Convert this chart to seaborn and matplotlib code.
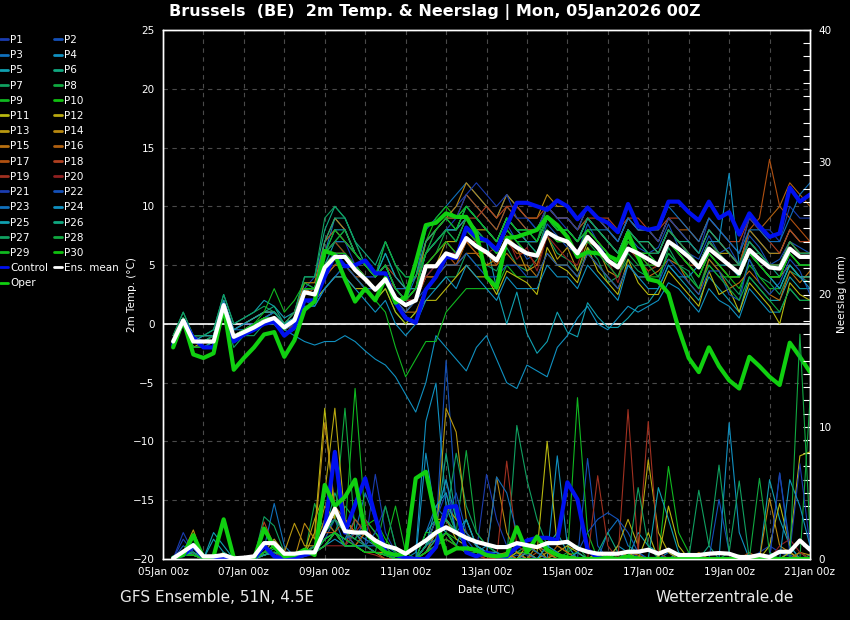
import pandas as pd
import matplotlib
matplotlib.use('Agg')
import matplotlib.pyplot as plt
from matplotlib.lines import Line2D
from matplotlib.ticker import MultipleLocator
import matplotlib.dates as mdates
import seaborn as sns

# 6-hourly steps, 05Jan 06z .. 21Jan 00z
times = pd.date_range('2026-01-05 06:00', periods=64, freq='6h')

member_names = [f'P{i}' for i in range(1, 31)]
member_colors = ['#1a3cb0', '#1450b8', '#1070bc', '#1090c0', '#10a0b0',
                 '#10a880', '#10a060', '#10a840', '#10b820', '#10c010',
                 '#b8b810', '#b8a810', '#b89810', '#b88810', '#b87010',
                 '#b06010', '#b05010', '#b04020', '#a03020', '#902020'] * 2
member_colors = member_colors[:30]

control_temp = [-1.8, 0.3, -1.2, -2.0, -2.0, 1.6, -1.5, -0.9, -0.5, 0.0, 0.2, -1.0, -0.3, 2.0, 2.0, 4.0,
                5.9, 4.9, 5.0, 5.4, 4.3, 4.3, 1.8, 0.5, 0.1, 2.9, 4.0, 5.7, 5.6, 8.2, 7.4, 7.1,
                6.3, 8.3, 10.3, 10.3, 10.0, 9.7, 10.5, 10.0, 8.9, 9.9, 9.0, 8.6, 7.8, 10.2, 8.3, 8.0,
                8.2, 10.4, 10.4, 9.5, 8.8, 10.4, 9.0, 9.5, 7.6, 9.4, 8.3, 7.4, 7.7, 11.6, 10.4, 11.0]
oper_temp = [-2.0, 0.3, -2.6, -2.9, -2.5, 1.5, -3.9, -2.9, -2.0, -0.9, -0.7, -2.8, -1.4, 1.2, 1.9, 6.2,
             5.9, 3.8, 1.9, 3.0, 2.0, 3.9, 1.8, 2.3, 5.2, 8.4, 8.6, 9.4, 9.1, 9.1, 7.7, 4.0,
             3.1, 7.3, 7.4, 7.7, 8.0, 9.1, 8.4, 7.4, 5.7, 6.1, 6.0, 5.8, 5.4, 7.7, 5.7, 3.8,
             3.6, 2.6, -0.4, -2.9, -4.1, -2.0, -3.6, -4.8, -5.5, -2.8, -3.6, -4.5, -5.2, -1.6, -2.8, -4.1]
mean_temp = [-1.5, 0.3, -1.5, -1.5, -1.5, 1.6, -1.1, -0.7, -0.3, 0.2, 0.5, -0.3, 0.3, 2.7, 2.5, 4.8,
             5.7, 5.7, 4.6, 3.8, 2.9, 3.8, 2.2, 1.6, 2.0, 4.9, 4.9, 6.0, 5.7, 7.3, 6.6, 6.1,
             5.4, 7.1, 6.5, 6.0, 5.8, 7.8, 7.3, 7.0, 6.0, 7.4, 6.5, 5.4, 4.8, 6.4, 6.0, 5.5,
             5.0, 7.0, 6.4, 5.7, 4.8, 6.4, 5.7, 5.0, 4.3, 6.3, 5.5, 4.8, 4.7, 6.4, 5.7, 5.7]

control_rain = [0.1, 0.3, 1.0, 0.1, 0, 0.1, 0, 0, 0, 1.0, 0.2, 0, 0.1, 0.3, 0.5, 2.2,
                8.1, 2.0, 4.1, 6.1, 3.2, 0.5, 0.3, 0.1, 0, 0, 0.9, 3.9, 4.0, 0.5, 0.2, 0.5,
                0.2, 0.2, 0.9, 1.4, 1.6, 1.6, 1.4, 5.8, 4.5, 0.7, 0.1, 0, 0, 0, 0, 0,
                0, 0, 0, 0, 0, 0, 0, 0, 0, 0, 0, 0, 0, 0, 0, 0]
oper_rain = [0.1, 0.3, 1.8, 0.1, 0.2, 3.0, 0.1, 0, 0, 2.3, 0.9, 0.2, 0.3, 0.7, 0.3, 5.6,
             4.0, 4.7, 6.0, 2.0, 1.2, 0.5, 0.3, 0.4, 6.1, 6.6, 3.0, 0.4, 0.8, 0.8, 0.7, 0.3,
             0.2, 0.3, 2.4, 0.5, 1.7, 0.7, 0.3, 0.1, 0, 0, 0, 0.1, 0, 0.2, 0, 0,
             0, 0, 0, 0, 0, 0, 0, 0, 0, 0, 0, 0, 0, 0, 0, 0]
mean_rain = [0.05, 0.55, 1.05, 0.2, 0.2, 0.3, 0.05, 0.1, 0.2, 1.2, 1.2, 0.4, 0.4, 0.5, 0.5, 2.2,
             3.8, 2.1, 2.0, 2.0, 1.4, 1.0, 0.8, 0.4, 0.9, 1.4, 2.0, 2.4, 2.0, 1.6, 1.3, 1.1,
             0.9, 0.9, 1.2, 1.05, 0.9, 1.2, 1.2, 1.3, 0.8, 0.55, 0.4, 0.4, 0.4, 0.55, 0.55, 0.7,
             0.4, 0.7, 0.3, 0.3, 0.3, 0.4, 0.45, 0.4, 0.15, 0.15, 0.3, 0.15, 0.55, 0.55, 1.4, 0.7]

member_temp = [
    [-1, 0.5, -1, -1.5, -1, 1.5, -1, -0.5, 0, 0.5, 1, 0, 1, 3, 4, 7,
     8, 7, 5, 4, 4, 5, 3, 2, 3, 6, 8, 9, 10, 11, 10, 9,
     8, 10, 9, 8, 8, 10, 9, 8, 7, 9, 8, 7, 6, 8, 7, 6,
     6, 8, 7, 6, 5, 7, 6, 5, 4, 6, 5, 4, 4, 6, 5, 5],
    [-2, 0, -2, -2, -2, 1, -1.5, -1, 0, 0.5, 0, -1, 0, 2, 2, 4,
     5, 6, 5, 4, 3, 4, 2, 1, 2, 4, 5, 6, 6, 8, 7, 7,
     6.5, 8.5, 7, 5.5, 6, 8.5, 7.5, 6.5, 6, 8.5, 7, 5.5, 5, 7.5, 6.5, 6,
     6.5, 8.5, 6.5, 6, 5.5, 7.5, 6, 6.5, 5, 7.5, 6.5, 5, 5.5, 7, 6.5, 6],
    [-1.5, 0.5, -1.5, -1, -1, 2, -0.5, 0, 0.5, 1, 1, 0, 0.5, 3.5, 3, 6,
     9, 8, 6, 5, 4, 5, 3, 2, 4, 8, 9, 10, 11, 12, 11, 10,
     9, 11, 10, 9, 8, 10, 9, 9, 8, 10, 9, 8, 7, 9, 8, 8,
     7, 9, 8, 7, 6, 8, 7, 6, 5, 8, 7, 6, 6, 8, 7, 7],
    [-2, 0, -2, -2, -1.5, 1, -1, -0.5, 0, 0, 0, -0.5, -1, -1.5, -1.8, -1.5,
     -1.5, -1, -1.5, -2.3, -3, -3.5, -4.5, -6, -7.5, -5, -1, -2, -3, -4, -2, -1,
     -3, -5, -5.5, -3.5, -4, -4.5, -2, -1, 0.5, 1.5, 0, -0.5, 0.5, 1.5, 1, 1.5,
     2, 3.5, 3, 2, 1, 3, 2, 1.5, 0.5, 3, 2, 1, 1, 3, 2, 2],
    [-1.5, 0.5, -1, -1, -0.5, 2.5, 0, 0.5, 1, 2, 1.5, 0.5, 1, 3, 3, 5,
     7, 7, 6, 5, 4, 5, 3, 2, 2, 5, 6, 7, 6, 8, 7, 7,
     3, 0, 2.7, -0.8, -2.5, -1.5, 1, -0.7, -1.1, 1.8, 0.6, -0.3, -0.3, 0.5, 1.5, 1.8,
     3, 5, 4, 3, 2, 4, 3, 2, 1, 4, 3, 2, 2, 4, 3, 3],
    [-1, 1, -1, -1, -1, 2, -0.5, 0, 0.5, 1, 1.5, 0, 1, 4, 4, 8,
     10, 9, 7, 5, 4, 6, 4, 3, 4, 7, 8, 9, 9, 10, 9, 8,
     7, 9, 8, 7, 7, 9, 8, 8, 7, 9, 8, 7, 6, 8, 7, 7,
     6, 8, 7, 6, 5, 7, 6, 5, 5, 7, 6, 5, 5, 7, 6, 6],
    [-2, 0, -2, -2, -2, 1, -2, -1, -1, 0, 0, -1, 0, 2, 2, 3,
     4, 5, 4, 3, 2, 3, 1, 0, 1, 3, 3, 4, 4, 6, 5, 5,
     4.5, 6.5, 5, 4.5, 5.5, 7.5, 6, 5.5, 4.5, 6.5, 5.5, 3.5, 4, 5.5, 4.5, 4,
     3.5, 6.5, 5, 4.5, 3, 5.5, 4.5, 3.5, 2.5, 5.5, 4, 3.5, 2.5, 4.5, 4, 3.5],
    [-1.5, 0.5, -1.5, -1.5, -1, 2, -1, -0.5, 0, 0.5, 1, 0, 0.5, 3, 3, 6,
     7, 8, 6, 5, 4, 7, 5, 3, 3, 5, 6, 8, 8, 10, 9, 8,
     7, 9, 8, 8, 7, 10, 9, 9, 8, 9, 8, 7, 6, 8, 7, 6,
     6, 8, 7, 6, 5, 7, 6, 5, 4, 6, 6, 5, 5, 7, 6, 6],
    [-2, 0, -2, -2, -1.5, 1.5, -1, -0.5, 0, 0.5, 0.5, -0.5, 0, 2.5, 2.5, 5,
     6, 5, 4, 3, 2, 1, -2, -4.5, -3, -1.5, -1.5, 1, 2, 3, 3, 3,
     3, 5, 4, 4, 4, 6, 5, 5, 4, 6, 5, 4, 3, 5, 4, 4,
     4, 6, 5, 4, 3, 5, 4, 4, 3, 5, 4, 3, 3, 5, 4, 4],
    [-1.5, 0.5, -1.5, -1.5, -1.5, 1.5, -1, -1, -0.5, 0, 0.5, -0.5, 0.5, 3, 3, 6,
     7, 6, 5, 4, 3, 4, 3, 2, 3, 7, 9, 10, 9, 10, 9, 8,
     7, 9, 8, 7, 7, 9, 8, 8, 7, 8, 7, 6, 5, 7, 6, 6,
     5, 7, 6, 5, 4, 6, 5, 4, 4, 6, 5, 4, 4, 6, 5, 5],
    [-2, 0, -2, -1.5, -1.5, 1, -1, -1, -0.5, 0, 0.5, -0.5, 0, 2, 2, 3,
     4, 4, 3, 3, 2, 3, 1, 0, 1, 2, 2, 3, 4, 5, 4, 4,
     2.5, 4.5, 4, 3.5, 2.5, 6.5, 5, 4.5, 3.5, 6.5, 4.5, 3.5, 2.5, 5.5, 3.5, 2.5,
     2.5, 4.5, 3.5, 2.5, 1.5, 4.5, 2.5, 3, 1, 3.5, 2.5, 1.5, 0, 3.5, 2.5, 2],
    [-1.5, 0.5, -1.5, -1.5, -1, 1.5, -1, -0.5, 0, 0.5, 1, 0, 0.5, 3, 2.5, 5,
     6, 6, 5, 4, 3, 4, 2, 1, 2, 5, 5, 7, 7, 9, 8, 8,
     7, 9, 8, 7, 7, 9, 8, 8, 7, 9, 8, 7, 6, 8, 7, 7,
     6, 8, 7, 6, 5, 7, 6, 6, 5, 7, 6, 5, 5, 7, 6, 6],
    [-2, 0, -2, -2, -1.5, 1, -1.5, -1, 0, 0.5, 0, -1, 0, 2, 2, 4,
     5, 5, 4, 3, 3, 4, 2, 1, 2, 4, 4, 5, 5, 7, 6, 5,
     5.5, 7.5, 6.5, 4.5, 5, 7.5, 5.5, 6.5, 4.5, 7, 6.5, 4.5, 4, 6.5, 5.5, 4.5,
     5, 7, 6, 5, 4, 6, 5, 4, 4, 6, 5, 4, 4, 5, 4, 4],
    [-1, 0.5, -1, -1, -1, 2, -0.5, 0, 0.5, 1, 1, 0, 1, 3.5, 3.5, 7,
     9, 8, 6, 5, 4, 5, 3, 2, 3, 7, 8, 9, 10, 12, 11, 10,
     9, 11, 10, 9, 9, 11, 10, 10, 9, 10, 9, 8, 7, 9, 8, 8,
     7, 9, 8, 7, 6, 8, 7, 6, 5, 8, 7, 6, 6, 8, 7, 7],
    [-1.5, 0.3, -1.5, -1.5, -1.5, 1.5, -1, -0.5, 0, 0.5, 0.5, -0.5, 0.5, 3, 2.5, 5,
     6, 6, 5, 4, 3, 4, 2, 1, 1, 3, 4, 5, 5, 6, 6, 5,
     5, 6, 5, 5, 4, 6, 5, 5, 4, 6, 5, 4, 3, 5, 4, 4,
     4.5, 5.5, 5, 3.5, 2.5, 5.5, 4.5, 3, 3.5, 4.5, 3.5, 2.5, 2, 4.5, 3.5, 4.5],
    [-2, 0, -2, -2, -1.5, 1, -1, -0.5, 0, 0.5, 0.5, -0.5, 0.5, 2.5, 3, 7,
     8, 7, 6, 5, 4, 5, 3, 3, 4, 7, 8, 9, 9, 11, 10, 9,
     8, 10, 9, 8, 8, 10, 9, 9, 8, 10, 9, 8, 7, 9, 8, 8,
     7, 9, 8, 8, 7, 9, 8, 7, 6, 9, 8, 9, 10, 12, 11, 10],
    [-1.5, 0.3, -1.5, -1.5, -1.5, 1.5, -1, -0.5, 0, 0.5, 0.5, -0.5, 0, 2, 2, 4,
     5, 5, 4, 4, 3, 4, 2, 2, 2, 4, 4, 6, 5, 7, 6, 6,
     5, 7, 6, 6, 5, 8, 7, 7, 6, 8, 7, 6, 5, 7, 6, 5,
     5, 7, 6, 5, 5, 7, 7, 6, 5, 8, 9, 14, 10, 9, 8, 7],
    [-2, 0, -2, -2, -2, 1, -1.5, -1, -0.5, 0, 0.5, -0.5, 0, 2.5, 2.5, 6,
     7, 7, 6, 5, 4, 5, 4, 3, 3, 6, 7, 8, 8, 9, 9, 10,
     9, 10, 10, 9, 9, 10, 9, 9, 8, 9, 9, 9, 8, 9, 9, 8,
     8, 9, 9, 8, 7, 9, 8, 7, 7, 9, 8, 7, 6, 8, 7, 7],
    [-1.5, 0.3, -1.5, -1.5, -1.5, 1.5, -1, -0.5, -0.5, 0, 0.5, -0.5, 0.5, 3, 3, 6,
     7, 6, 5, 4, 3, 4, 2, 2, 2, 5, 6, 7, 6, 8, 7, 7,
     6, 8, 7, 6, 6, 8, 7, 7, 6, 8, 7, 6, 5, 7, 6, 6,
     6, 8, 7, 6, 5, 7, 6, 5, 5, 7, 6, 5, 5, 7, 6, 6],
    [-2, 0, -2, -2, -2, 1, -1.5, -1, -0.5, 0, 0, -1, 0, 2, 2, 5,
     6, 6, 5, 4, 3, 4, 3, 2, 2, 4, 5, 6, 6, 7, 7, 6,
     6.5, 7.5, 5.5, 6.5, 4.5, 7.5, 6.5, 5.5, 5, 7.5, 6.5, 5.5, 3.5, 6.5, 5.5, 4.5,
     5, 7, 6, 5, 4, 6, 5, 4, 4, 6, 5, 4, 4, 6, 5, 5],
    [-1.5, 0.5, -1.5, -1.5, -1, 2, -0.5, 0, 0, 0.5, 1, 0, 0.5, 3, 3, 5,
     6, 6, 5, 4, 4, 5, 3, 2, 3, 6, 7, 8, 9, 11, 12, 11,
     10, 11, 9, 9, 8, 10, 9, 9, 8, 10, 9, 8, 7, 9, 8, 8,
     7, 9, 8, 7, 6, 9, 8, 7, 6, 9, 8, 8, 7, 10, 9, 9],
    [-2, 0, -2, -2, -1.5, 1, -1, -1, -0.5, 0, 0.5, -0.5, 0, 2, 1.5, 3,
     4, 5, 4, 3, 3, 4, 2, 1, 2, 3, 4, 5, 5, 6, 5, 4,
     4, 5, 5, 4, 4, 6, 5, 5, 4, 6, 5, 4, 3, 5, 4, 4,
     3.5, 5.5, 4.5, 3.5, 2.5, 4.5, 4.5, 2.5, 2, 5.5, 3.5, 2.5, 3.5, 5.5, 4.5, 2.5],
    [-1.5, 0.5, -1.5, -1.5, -1, 1.5, -0.5, -0.5, 0, 0.5, 1, 0, 0.5, 3, 3, 6,
     7, 7, 6, 5, 4, 5, 3, 3, 4, 6, 7, 8, 8, 10, 9, 8,
     7, 9, 8, 7, 7, 9, 8, 8, 7, 9, 8, 8, 7, 9, 8, 8,
     8, 10, 9, 8, 7, 9, 8, 7, 6, 8, 8, 7, 7, 9, 11, 12],
    [-2, 0, -2, -2, -2, 1, -1.5, -1, -0.5, 0, 0, -1, -0.5, 1.5, 1.5, 3,
     4, 4, 3, 2, 1, 2, 0, -1, 0, 2, 3, 4, 3, 5, 4, 3,
     2, 4, 3, 3, 3, 5, 4, 4, 3, 5, 4, 3, 2, 5, 4, 3,
     3, 5, 4, 4, 5, 7, 7, 12.8, 5, 6, 5, 4, 3, 5, 4, 3],
    [-1.5, 0.3, -1.5, -1, -1, 2, -0.5, 0, 0.5, 1, 1, 0, 0.5, 3, 3, 6,
     8, 8, 6, 5, 4, 6, 4, 3, 3, 6, 7, 8, 8, 9, 8, 7,
     6, 8, 7, 7, 6, 8, 7, 7, 6, 8, 7, 6, 5, 7, 6, 6,
     5, 7, 6, 5, 4, 6, 5, 5, 4, 6, 5, 4, 3, 5, 4, 4],
    [-2, 0, -2, -2, -1.5, 1.5, -1, -0.5, 0, 0.5, 0.5, -0.5, 0.5, 3, 3, 7,
     9, 9, 7, 6, 5, 7, 5, 4, 4, 7, 8, 9, 8, 10, 9, 8,
     7, 9, 8, 8, 7, 9, 8, 8, 7, 8, 8, 7, 6, 8, 7, 7,
     6, 8, 7, 7, 6, 8, 7, 6, 5, 7, 6, 5, 4, 6, 5, 5],
    [-1, 1, -1, -1, -0.5, 2.5, 0, 0.5, 1, 1.5, 1, 0, 1, 4, 4, 9,
     10, 9, 7, 5, 4, 5, 3, 2, 3, 6, 7, 8, 7, 9, 8, 7,
     6, 8, 7, 7, 6, 9, 8, 8, 7, 9, 8, 7, 6, 8, 7, 6,
     6, 8, 7, 6, 5, 7, 6, 5, 5, 7, 6, 5, 5, 7, 6, 6],
    [-1.5, 0.5, -1.5, -1.5, -1, 1.5, -1, -0.5, 0, 0.5, 0.5, -0.5, 0.5, 3, 3, 6,
     7, 8, 6, 5, 4, 7, 5, 4, 4, 6, 7, 8, 7, 9, 8, 7,
     6, 8, 7, 6, 6, 8, 7, 7, 6, 7, 6, 5, 4, 6, 5, 5,
     4, 6, 5, 4, 3, 5, 4, 3, 2, 4, 3, 2, 1, 3, 2, 2],
    [-2, 0, -2, -2, -2, 1, -1.5, -1, 0, 1, 3, 1, 2, 3.5, 3, 6,
     8, 7, 6, 5, 4, 5, 3, 2, 3, 6, 8, 9, 8, 10, 9, 8,
     7, 9, 8, 8, 7, 9, 8, 8, 7, 8, 7, 6, 5, 7, 6, 5,
     5, 7, 6, 5, 4, 6, 5, 4, 4, 6, 5, 4, 4, 6, 5, 5],
    [-1.5, 0.5, -1.5, -1.5, -1.5, 1.5, -1, -0.5, 0, 0.5, 0.5, -0.5, 0.5, 3, 3, 5,
     6, 6, 5, 4, 3, 4, 2, 2, 3, 5, 6, 7, 6, 8, 7, 7,
     6, 8, 7, 6, 6, 8, 7, 7, 6, 8, 7, 6, 5, 7, 6, 6,
     5, 7, 6, 5, 4, 6, 5, 4, 4, 6, 5, 4, 4, 6, 5, 5],
]

member_rain = [
    [0, 2.0, 0.5, 0, 0, 0.3, 0, 0, 0, 0.5, 1.5, 0.3, 0, 0.5, 1, 2,
     4, 3, 2, 1, 6.4, 2, 0.5, 0, 0, 1, 3, 6, 2, 1, 0.5, 6.4,
     3, 1, 0.5, 0.3, 0, 0, 0, 0.2, 0, 0, 0, 0, 0, 0.5, 0.2, 0,
     0, 0, 0, 0.5, 0, 0, 0, 0, 0, 0, 0.5, 1, 0.5, 0.2, 0, 0],
    [0, 1, 0.5, 0, 0, 0, 0, 0, 0, 0.3, 0.5, 0, 0, 0.3, 0.5, 1.5,
     3, 2, 1.5, 3, 2, 1, 0, 0, 0, 0.5, 2, 15, 4, 1.5, 0.5, 0.3,
     0, 0, 0.3, 0, 0, 0, 0, 0, 0, 7.6, 1, 0, 0, 0, 0, 0,
     0, 0, 0, 0, 0, 0, 0, 0, 0, 0, 0, 0, 0.5, 0.3, 0, 0],
    [0, 0.5, 1.2, 0, 0, 0.5, 0, 0, 0, 0.8, 4.2, 1, 0.2, 0.5, 0.5, 2.5,
     3, 1, 2, 5, 3, 1, 0.5, 0, 0, 2, 4, 3, 2, 1, 0.5, 0.5,
     0.2, 0, 0, 0.5, 1, 0.5, 0, 0, 0, 0, 0, 2, 3, 1, 0.5, 0,
     0, 0.5, 0, 0, 0, 0, 0, 0, 0, 0, 0, 0, 6.5, 1, 0, 0],
    [0, 0.3, 0.5, 0, 0, 0, 0, 0, 0, 0.3, 0.5, 0, 0, 0.2, 0.5, 1,
     2, 1, 2, 1.5, 1, 0.5, 0, 0, 0.5, 10.4, 13.3, 4, 2, 1, 0.5, 1,
     0.5, 0.2, 0, 0, 0, 0, 7.8, 1, 0, 0, 0, 0, 1, 0.5, 0, 0,
     0, 0, 0, 0, 0, 0, 0, 10.3, 2, 0, 0, 0, 0, 0, 0.5, 0],
    [0, 0.5, 0.3, 0, 2.0, 1, 0, 0, 0, 0.5, 1, 0.5, 0, 0.3, 0.5, 1,
     2, 1.5, 3, 2, 1, 0.5, 0.3, 0, 0, 2, 3, 6, 3, 2, 1, 0.5,
     0.3, 0, 0, 0.5, 0, 1, 2, 0.5, 0, 0, 0, 0, 0, 0, 2, 1,
     0.5, 0, 0, 0, 0, 0, 0, 0, 0, 0, 0, 6, 3, 1, 0, 0],
    [0, 0.3, 0.5, 0, 0, 0.5, 0, 0, 0, 0.3, 0.8, 0.3, 0, 0.3, 1, 2,
     5, 3, 2, 2, 1, 0.5, 0, 0, 0, 1, 2, 8, 3, 2, 1, 0.5,
     0, 0, 0.5, 1, 0.5, 0, 0, 0, 0, 0, 0.5, 2, 0.5, 0, 0, 0,
     0, 0, 0.5, 0, 0, 1, 0, 0, 0, 0, 0, 0, 0, 0.5, 0, 0.3],
    [0, 0.5, 0.3, 0, 0, 0, 0, 0, 0, 3.2, 2.5, 0.5, 0, 0.5, 1, 3,
     2, 4, 3, 2, 1, 0.5, 0, 0, 0, 1, 2, 3, 8, 4, 2, 1,
     0.5, 0, 10.1, 6, 3, 1, 0.5, 0, 0, 0, 0, 0, 0, 0, 0, 0,
     0, 0, 0, 0, 0, 0, 0, 0, 0, 0, 0, 0, 0, 0.5, 0, 0],
    [0, 0.3, 0.3, 0, 0, 0.2, 0, 0, 0, 0.5, 1, 0.5, 0, 0.3, 4.2, 2,
     3, 11.4, 2, 1, 2, 1, 0, 0, 0, 1, 2, 4, 2, 8.2, 2, 1,
     0.5, 0, 0, 0.5, 0, 0.5, 0, 0.5, 1, 0, 0, 0, 0, 0, 0, 0,
     0, 0, 0, 0, 0, 0, 0, 0.5, 0, 0, 0, 0, 0, 0, 0, 12],
    [0, 0.5, 0.5, 0, 0, 0.2, 0, 0, 0, 0.3, 0.5, 0, 0, 0.3, 1, 2,
     4, 2, 12.9, 3, 2, 1, 4, 0.5, 0, 1, 3, 2, 1.5, 1, 0.5, 0.3,
     0, 0, 0.5, 0.5, 0, 0, 0, 0, 12.2, 2, 0, 0, 0, 0, 0, 0,
     0, 7, 2, 0.5, 0, 0, 0, 0, 0, 0, 0, 0, 0, 0, 0, 0],
    [0, 0.3, 0.8, 0, 0, 0.3, 0, 0, 0, 0.5, 1, 0.5, 0, 0.2, 0.5, 2,
     3, 2, 1.5, 2.5, 3, 1.5, 0.5, 0, 0, 2, 2, 4, 3, 2, 1, 0.5,
     0.2, 0, 0, 0.5, 0, 0, 0, 0.3, 0.5, 0, 0, 0, 0, 0, 0.2, 0,
     0, 0, 0, 0, 0, 0, 0, 0, 0.3, 0, 0, 0, 0, 0, 0.5, 0],
    [0, 0.3, 0.5, 0, 0, 0.5, 0, 0, 0, 0.5, 1, 0.5, 0, 0.3, 2, 11.4,
     3, 2, 1, 2, 1.5, 0.5, 0, 0, 0, 1, 3, 3, 2, 1, 0.5, 0.5,
     0.5, 0, 0, 1, 0.5, 8.9, 1, 0.5, 0, 0, 0, 0, 0.5, 0, 0, 2,
     0, 4, 1, 0, 0, 0, 0, 0, 0, 0, 0, 1, 4.2, 1, 7.8, 8.1],
    [0, 0.5, 1, 0.2, 0, 0.3, 0, 0, 0, 0.5, 1.5, 0.5, 0, 0.5, 3, 5,
     11.4, 3, 2, 1, 0.5, 0.5, 0, 0, 0, 1, 2, 3, 1.5, 1, 0.5, 0.3,
     0, 0, 0.5, 0, 0, 0, 0.5, 1, 0.5, 0, 0.5, 0, 1, 3, 1, 7.5,
     2, 0.5, 0, 0, 0, 0, 0, 0, 0, 0, 0, 0, 0, 0.5, 0, 0],
    [0, 0.5, 2.2, 0, 0, 0.3, 0, 0, 0, 0.5, 1, 0.5, 2.7, 1, 1, 4,
     3, 2, 1, 0.5, 0.5, 0.3, 0, 0, 0, 0.5, 1.5, 11.4, 9.6, 3, 1, 0.5,
     0.3, 0.5, 0, 0, 1, 0, 0, 0, 0, 0, 0, 0, 0, 0.5, 0, 0,
     0, 0, 0, 0, 0, 0, 0, 0, 0, 0, 0, 0, 0, 0, 0.5, 0.3],
    [0, 0.3, 0.5, 0, 0, 0, 0, 0, 0, 0.3, 0.5, 0.3, 0, 2.7, 1.5, 10.3,
     4, 3, 2, 2, 1, 0.5, 0, 0, 0, 0.5, 2, 4, 3, 2, 1, 0.5,
     6.2, 2, 0.5, 0, 0, 0.5, 0, 0, 0, 0, 0, 0, 0, 0, 0, 0,
     0, 0, 0, 0, 0, 0, 0, 0, 0, 0, 0, 4.6, 1, 0.5, 0, 0],
    [0, 0.3, 0.5, 0, 0, 0.2, 0, 0, 0, 0.5, 1, 0.3, 0, 0.5, 1, 3,
     2, 1, 1, 0.5, 0.5, 0, 0, 0, 0, 0.5, 1, 2, 1, 0.5, 0.3, 0.2,
     0, 0.5, 0, 0.5, 1, 0.5, 0, 0, 0, 0, 0, 0, 0, 0.5, 0.3, 0,
     0, 0, 0, 0, 0.5, 0, 0, 0, 0, 0, 0, 0, 0, 0, 0, 0],
    [0, 0.3, 0.3, 0, 0, 0.3, 0, 0, 0, 0.5, 1, 0.5, 0, 0.3, 0.5, 2,
     2, 3, 2, 1, 0.5, 0.3, 0, 0, 0, 1, 2, 3, 2, 1, 0.5, 0.3,
     0, 0, 0, 0.5, 0, 0, 1, 0.5, 0, 0, 0, 0, 0, 0, 0, 0,
     0, 0, 0, 0, 0, 0, 0, 0, 0, 0, 0, 0, 0, 0, 0.5, 0],
    [0, 0.5, 0.5, 0, 0, 0.2, 0, 0, 0, 0.3, 0.5, 0.3, 0, 0.5, 1, 2,
     2, 1, 1, 2, 1, 0.5, 0, 0, 0, 0.5, 1, 2, 1, 0.5, 0.3, 0,
     0, 0, 0, 0, 0.5, 0, 0, 0, 0, 0, 0, 0, 0, 0, 0, 0,
     0, 0, 0, 0, 0, 0, 0, 0, 0, 0.5, 0, 0, 0, 0, 0, 0],
    [0, 0.5, 0.3, 0, 0, 0.2, 0, 0, 0, 2.8, 1, 0.5, 0, 0.3, 0.5, 1,
     2, 1, 3, 2, 1, 0.5, 0, 0, 0, 0.5, 1, 1.5, 1, 0.5, 0.3, 0.3,
     0, 0, 0, 0.5, 0, 0, 0, 0, 0, 0, 0, 0, 0, 0, 0, 0,
     0, 0, 0, 0, 0, 0, 0, 0, 0, 0, 0, 0, 0, 0, 0, 0],
    [0, 0.3, 0.5, 0, 0, 0, 0, 0, 0, 0.3, 0.5, 0, 0, 0.3, 0.5, 1,
     2, 1, 1, 0.5, 0.3, 0, 0, 0, 0, 0.5, 1, 2, 1, 0.5, 0.3, 0,
     0, 7.4, 1, 0.5, 0, 0, 0, 0, 0, 0, 6.3, 1, 0, 11.3, 0.5, 10.4,
     0.5, 0, 0, 0, 0, 0, 0, 0, 0, 0, 0, 0, 0, 0, 0, 0],
    [0, 0.3, 0.3, 0, 0, 0.2, 0, 0, 0, 0.5, 0.5, 0.3, 0, 0.3, 0.5, 1,
     1, 1, 2, 3, 1, 0.5, 0, 0, 0, 0.5, 1, 1.5, 1, 0.5, 0.5, 0.3,
     0.3, 0, 0, 0, 0, 0, 0, 0, 0, 0, 0, 0, 0, 0, 0, 0,
     0, 0, 0, 0, 0, 0, 0, 0, 0, 0, 0, 0, 1, 1.5, 0.5, 0],
    [0, 1.5, 0.5, 0, 0, 0.3, 0, 0, 0, 0.5, 1, 0.5, 0, 0.5, 1, 2,
     3, 2, 1, 1, 2, 4, 1, 0, 0, 1, 3, 5, 2, 1, 0.5, 0.3,
     0.5, 0, 0, 0, 0, 0, 0, 0, 0, 0, 0, 0, 0, 0, 0, 0,
     0, 0, 0, 0, 0, 0, 0, 0, 0, 0, 0, 0, 6.5, 0.5, 7.2, 1],
    [0, 0.3, 0.5, 0, 0, 0, 0, 0, 0, 0.5, 1, 0.3, 0, 0.3, 0.5, 1.5,
     2, 1.5, 1, 1, 0.5, 0.3, 0, 0, 0, 1, 2, 3, 5, 2, 1, 0.5,
     0.5, 0, 0, 0, 0, 0, 0, 0, 0.5, 2, 3, 3.5, 3, 2, 0.5, 0,
     0, 0, 0, 0, 0, 0, 4.5, 0.5, 0, 0, 0, 0, 0, 0, 0, 0],
    [0, 0.5, 0.5, 0, 0, 0.2, 0, 0, 0, 0.3, 0.5, 0.3, 0, 0.3, 0.5, 1.5,
     2, 1.5, 2, 1, 1, 0.5, 0, 0, 0, 1, 1.5, 2, 1, 0.5, 0.5, 0.3,
     6.2, 5, 2, 1, 0.5, 0, 0, 0, 0, 0, 0, 0, 0, 0, 0, 0,
     0, 0, 0, 0, 0, 0, 0, 0, 0, 0, 0, 0, 0, 0, 0, 0],
    [0, 0.3, 0.3, 0, 0, 0.2, 0, 0, 0, 0.3, 0.5, 0.3, 0, 0.3, 0.5, 1,
     1.5, 1, 1, 0.5, 0.5, 0.3, 0, 0, 0, 8, 3, 2, 1, 3, 1, 0.5,
     0.5, 0, 0, 0, 0, 1, 0.5, 0, 0, 0, 0, 0, 0, 0, 0, 0,
     0, 0, 0, 0, 0, 0, 0, 0, 0, 0, 0, 0, 0, 6, 4, 1],
    [0, 0.3, 0.5, 0, 1.5, 0.5, 0, 0, 0, 0.3, 0.5, 0.3, 0, 0.3, 0.5, 1,
     2, 1, 1, 1, 0.5, 0.3, 0, 0, 0, 1, 4, 5, 2, 3, 1, 0.5,
     0.3, 0, 0, 0.5, 0, 0, 0, 0, 0.5, 0, 0, 0, 0.5, 0, 0, 0,
     5.4, 3, 0.5, 0, 0, 0, 0, 0, 0, 0, 0, 0, 0, 0, 0, 0],
    [0, 0.3, 0.3, 0, 0, 0.2, 0, 0, 0, 0.3, 0.5, 0.3, 0, 0.3, 0.5, 1.5,
     2, 1, 1, 0.5, 0.5, 0.3, 0, 0, 0, 0.5, 1.5, 3, 2, 1, 0.5, 0.3,
     0.3, 0, 0, 0, 0, 0, 0, 0, 0, 0, 0, 0, 0, 0, 0, 0,
     0, 0, 0, 0, 0, 0, 0, 0, 0, 0, 0, 0, 0, 0, 0, 0],
    [0, 0.5, 0.5, 0, 0, 0.3, 0, 0, 0, 0.5, 1, 0.3, 0, 0.5, 1, 2,
     3, 2, 1.5, 1, 0.5, 0.3, 0, 0, 0, 1, 2, 3, 2, 1, 0.5, 0.3,
     0.3, 0, 0, 0, 0, 0, 0, 0, 0, 0, 0, 0, 0, 0, 5.4, 1,
     0, 0, 0, 0, 5.2, 1, 7.1, 0.5, 5.9, 0, 0, 0, 0, 0, 0, 0],
    [0, 0.3, 0.3, 0, 0, 0.2, 0, 0, 0, 0.5, 0.5, 0.3, 0, 0.3, 0.5, 1,
     2, 1, 1, 0.5, 0.5, 4, 1, 0, 0, 0.5, 1, 2, 1, 0.5, 0.3, 0.3,
     0.3, 0, 0, 0, 0, 0, 0, 0, 0, 0, 0, 0, 0, 0, 0, 0,
     0, 0, 0, 0, 0, 0, 0, 0, 0, 0, 6.1, 0.5, 0, 0, 17, 2],
    [0, 0.3, 0.3, 0, 0, 0.2, 0, 0, 0, 0.5, 1, 0.3, 0, 0.3, 0.5, 1,
     2, 1, 1, 0.5, 0.5, 0.3, 0, 0, 0, 0.5, 1, 1.5, 1, 0.5, 0.3, 0.3,
     0.3, 0, 0, 0, 0, 0, 0, 0, 0, 0, 0, 0, 0, 0, 0, 0,
     0, 0, 0, 0, 0, 0, 0, 0, 0, 0, 0, 0, 0, 0, 0, 0],
    [0, 0.3, 0.3, 0, 0, 0.3, 0, 0, 0, 0.5, 1, 0.3, 0, 0.3, 0.5, 1.5,
     2, 1.5, 1, 0.5, 0.5, 0.3, 0, 0, 0, 0.5, 1, 2, 1, 0.5, 0.5, 0.3,
     0.3, 0, 0, 0, 0, 0, 0, 0, 0, 0, 0, 0, 0, 0, 0, 0,
     0, 0, 0, 0, 0, 0, 0, 0, 0, 0, 0, 0, 0, 0, 0, 0],
]

for i, (t, r) in enumerate(zip(member_temp, member_rain)):
    assert len(t) == 64 and len(r) == 64, (i + 1, len(t), len(r))

sns.set_theme(style='dark', rc={'axes.facecolor': 'black', 'figure.facecolor': 'black',
                                'axes.edgecolor': 'white', 'text.color': 'white',
                                'xtick.color': 'white', 'ytick.color': 'white'})
plt.rcParams['font.family'] = ['DejaVu Sans']

df_m = pd.concat([pd.DataFrame({'time': times, 'member': name, 'temp': t, 'rain': r})
                  for name, t, r in zip(member_names, member_temp, member_rain)])
pal = dict(zip(member_names, member_colors))

fig = plt.figure(figsize=(8.5, 6.2), dpi=100)
ax = fig.add_axes([163 / 850, 61 / 620, 647 / 850, 529 / 620])
ax2 = ax.twinx()

grid_kw = dict(color='#4a4a4a', ls=(0, (4, 4)), lw=0.8)
ax.grid(True, which='both', axis='x', **grid_kw)
ax.grid(True, which='major', axis='y', **grid_kw)
ax.axhline(0, color='white', lw=1.2, zorder=1)

sns.lineplot(data=df_m, x='time', y='temp', hue='member', palette=pal, lw=0.8,
             estimator=None, legend=False, ax=ax)
sns.lineplot(x=times, y=control_temp, color='#0010f0', lw=3, ax=ax)
sns.lineplot(x=times, y=oper_temp, color='#10d010', lw=3, ax=ax)
sns.lineplot(x=times, y=mean_temp, color='white', lw=3, ax=ax)

sns.lineplot(data=df_m, x='time', y='rain', hue='member', palette=pal, lw=0.8,
             estimator=None, legend=False, ax=ax2)
sns.lineplot(x=times, y=control_rain, color='#0010f0', lw=3, ax=ax2)
sns.lineplot(x=times, y=oper_rain, color='#10d010', lw=3, ax=ax2)
sns.lineplot(x=times, y=mean_rain, color='white', lw=3, ax=ax2)

ax.set_xlim(pd.Timestamp('2026-01-05'), pd.Timestamp('2026-01-21'))
ax.set_ylim(-20, 25)
ax2.set_ylim(0, 40)
ax.set_yticks(range(-20, 26, 5))
ax.set_xticks(pd.date_range('2026-01-05', '2026-01-21', freq='2D'))
ax.set_xticks(pd.date_range('2026-01-05', '2026-01-21', freq='D'), minor=True)
ax.xaxis.set_major_formatter(mdates.DateFormatter('%d%b %Hz'))
ax2.yaxis.set_major_locator(MultipleLocator(10))
ax2.yaxis.set_minor_locator(MultipleLocator(1))

ax.tick_params(axis='both', which='both', length=0, labelsize=7.5, colors='white', pad=6)
ax2.tick_params(axis='y', which='both', direction='in', length=5, width=0.8,
                labelsize=7.5, colors='white', pad=6)
for a in (ax, ax2):
    for s in a.spines.values():
        s.set_color('white')
        s.set_linewidth(1)

ax.set_xlabel('Date (UTC)', fontsize=7.5, color='white', labelpad=5)
ax.set_ylabel('2m Temp. (°C)', fontsize=7.5, color='white', labelpad=-3)
ax2.set_ylabel('Neerslag (mm)', fontsize=7.5, color='white', labelpad=4)

fig.text(435 / 850, 1 - 12 / 620, 'Brussels  (BE)  2m Temp. & Neerslag | Mon, 05Jan2026 00Z',
         ha='center', va='center', fontsize=11.5, fontweight='bold', color='white')
fig.text(120 / 850, 1 - 598 / 620, 'GFS Ensemble, 51N, 4.5E', ha='left', va='center',
         fontsize=11, color='#e8e8e8')
fig.text(794 / 850, 1 - 598 / 620, 'Wetterzentrale.de', ha='right', va='center',
         fontsize=11, color='#e8e8e8')

# legend filled row by row: P1 P2 / P3 P4 / ... / Control Ens. mean / Oper
entries = [(n, c) for n, c in zip(member_names, member_colors)]
entries += [('Control', '#0010f0'), ('Ens. mean', 'white'), ('Oper', '#10d010')]
col1 = entries[0::2]
col2 = entries[1::2]
ordered = col1 + col2
handles = [Line2D([0], [0], color=c, lw=2) for _, c in ordered]
labels = [n for n, _ in ordered]
fig.legend(handles, labels, loc='upper left', bbox_to_anchor=(0, 1 - 35 / 620), ncol=2,
           frameon=False, fontsize=7.5, handlelength=0.8, handletextpad=0.15,
           columnspacing=0.6, labelspacing=0.5, borderaxespad=0, borderpad=0,
           labelcolor='white')

fig.savefig('out.png', dpi=100, facecolor='black')
